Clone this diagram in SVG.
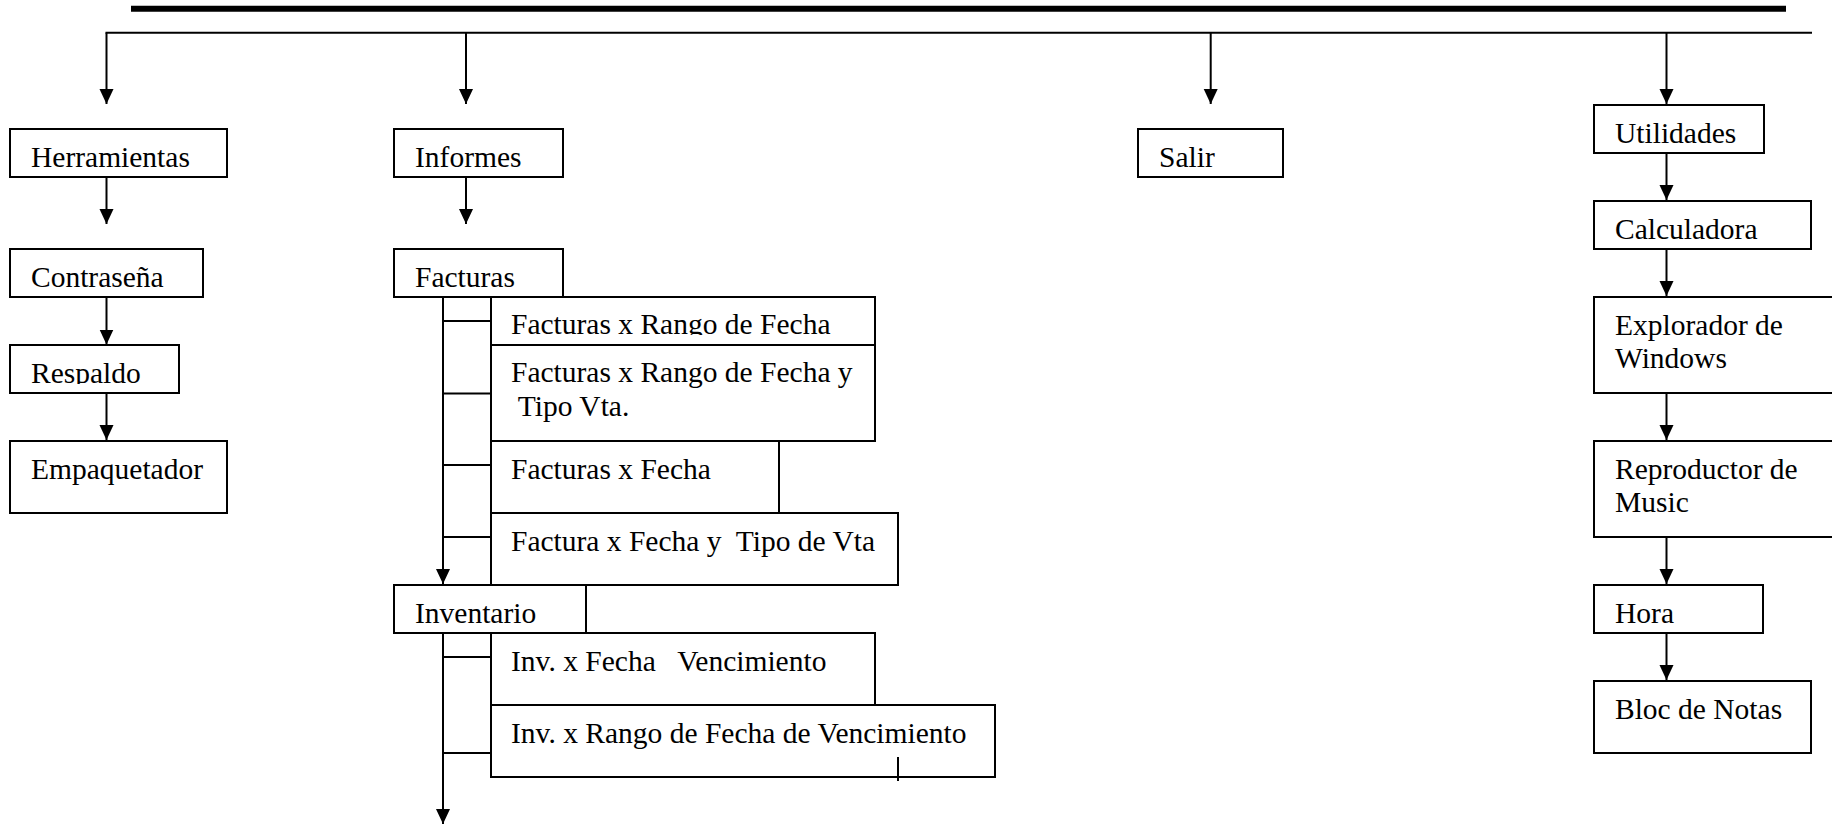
<svg xmlns="http://www.w3.org/2000/svg" width="1832" height="825" viewBox="0 0 1832 825">
<style>
.box{fill:#fff;stroke:#000;stroke-width:2}
.t{font-family:"Liberation Serif","Times New Roman",serif;font-size:29.5px;fill:#000}
.ln{stroke:#000;stroke-width:2;fill:none}
.ar{stroke:#000;stroke-width:2;fill:none;marker-end:url(#ah)}
</style>
<defs>
<marker id="ah" markerUnits="userSpaceOnUse" markerWidth="16" markerHeight="16" refX="15" refY="7" orient="auto" viewBox="0 0 16 14">
<path d="M0,0 L15,7 L0,14 z" fill="#000"/>
</marker>
<clipPath id="clipResp"><rect x="10" y="345" width="169" height="39"/></clipPath>
<clipPath id="clipF1"><rect x="491" y="297" width="384" height="38"/></clipPath>
</defs>
<rect width="1832" height="825" fill="#fff"/>

<g id="n-herramientas"><rect class="box" x="10" y="129" width="217" height="48"/><text class="t" x="31" y="166.5">Herramientas</text></g>
<g id="n-informes"><rect class="box" x="394" y="129" width="169" height="48"/><text class="t" x="415" y="166.5">Informes</text></g>
<g id="n-salir"><rect class="box" x="1138" y="129" width="145" height="48"/><text class="t" x="1159" y="166.5">Salir</text></g>
<g id="n-utilidades"><rect class="box" x="1594" y="105" width="170" height="48"/><text class="t" x="1615" y="142.5">Utilidades</text></g>
<g id="n-contrasena"><rect class="box" x="10" y="249" width="193" height="48"/><text class="t" x="31" y="286.5">Contraseña</text></g>
<g id="n-respaldo"><rect class="box" x="10" y="345" width="169" height="48"/><text class="t" x="31" y="382.5" clip-path="url(#clipResp)">Respaldo</text></g>
<g id="n-empaquetador"><rect class="box" x="10" y="441" width="217" height="72"/><text class="t" x="31" y="478.5">Empaquetador</text></g>
<g id="n-facturas"><rect class="box" x="394" y="249" width="169" height="48"/><text class="t" x="415" y="286.5">Facturas</text></g>
<g id="n-f-rango"><rect class="box" x="491" y="297" width="384" height="48"/><text class="t" x="511" y="334" clip-path="url(#clipF1)">Facturas x Rango de Fecha</text></g>
<g id="n-f-rango-tipo"><rect class="box" x="491" y="345" width="384" height="96"/><text class="t" x="511" y="382" xml:space="preserve">Facturas x Rango de Fecha y<tspan x="511" y="416"> Tipo Vta.</tspan></text></g>
<g id="n-f-fecha"><rect class="box" x="491" y="441" width="288" height="72"/><text class="t" x="511" y="478.5">Facturas x Fecha</text></g>
<g id="n-f-fecha-tipo"><rect class="box" x="491" y="513" width="407" height="72"/><text class="t" x="511" y="550.5" xml:space="preserve">Factura x Fecha y  Tipo de Vta</text></g>
<g id="n-inventario"><rect class="box" x="394" y="585" width="192" height="48"/><text class="t" x="415" y="622.5">Inventario</text></g>
<g id="n-inv-fecha"><rect class="box" x="491" y="633" width="384" height="72"/><text class="t" x="511" y="670.5" xml:space="preserve">Inv. x Fecha   Vencimiento</text></g>
<g id="n-inv-rango"><rect class="box" x="491" y="705" width="504" height="72"/><text class="t" x="511" y="743">Inv. x Rango de Fecha de Vencimiento</text></g>
<g id="n-calculadora"><rect class="box" x="1594" y="201" width="217" height="48"/><text class="t" x="1615" y="238.5">Calculadora</text></g>
<g id="n-explorador"><rect class="box" x="1594" y="297" width="260" height="96"/><text class="t" x="1615" y="334.5">Explorador de<tspan x="1615" y="368">Windows</tspan></text></g>
<g id="n-reproductor"><rect class="box" x="1594" y="441" width="260" height="96"/><text class="t" x="1615" y="478.5">Reproductor de<tspan x="1615" y="512">Music</tspan></text></g>
<g id="n-hora"><rect class="box" x="1594" y="585" width="169" height="48"/><text class="t" x="1615" y="622.5">Hora</text></g>
<g id="n-bloc"><rect class="box" x="1594" y="681" width="217" height="72"/><text class="t" x="1615" y="718.5">Bloc de Notas</text></g>

<g id="connectors">
<line x1="131" y1="8.7" x2="1786" y2="8.7" stroke="#000" stroke-width="6"/>
<line class="ln" x1="105.5" y1="32.7" x2="1812" y2="32.7"/>
<line class="ar" x1="106.5" y1="32.7" x2="106.5" y2="104"/>
<line class="ar" x1="466" y1="32.7" x2="466" y2="104"/>
<line class="ar" x1="1210.7" y1="32.7" x2="1210.7" y2="104"/>
<line class="ar" x1="1666.5" y1="32.7" x2="1666.5" y2="104"/>
<line class="ar" x1="106.5" y1="177" x2="106.5" y2="224"/>
<line class="ar" x1="106.5" y1="297" x2="106.5" y2="344.5"/>
<line class="ar" x1="106.5" y1="393" x2="106.5" y2="440"/>
<line class="ar" x1="466" y1="177" x2="466" y2="224"/>
<line class="ar" x1="443" y1="297" x2="443" y2="584"/>
<line class="ar" x1="443" y1="633" x2="443" y2="824"/>
<line class="ln" x1="443" y1="321" x2="491" y2="321"/>
<line class="ln" x1="443" y1="393.5" x2="491" y2="393.5"/>
<line class="ln" x1="443" y1="465" x2="491" y2="465"/>
<line class="ln" x1="443" y1="537" x2="491" y2="537"/>
<line class="ln" x1="443" y1="657" x2="491" y2="657"/>
<line class="ln" x1="443" y1="753" x2="491" y2="753"/>
<line class="ln" x1="898" y1="757" x2="898" y2="781"/>
<line class="ar" x1="1666.5" y1="153" x2="1666.5" y2="200"/>
<line class="ar" x1="1666.5" y1="249" x2="1666.5" y2="296"/>
<line class="ar" x1="1666.5" y1="393" x2="1666.5" y2="440"/>
<line class="ar" x1="1666.5" y1="537" x2="1666.5" y2="584"/>
<line class="ar" x1="1666.5" y1="633" x2="1666.5" y2="680"/>
</g>
</svg>
